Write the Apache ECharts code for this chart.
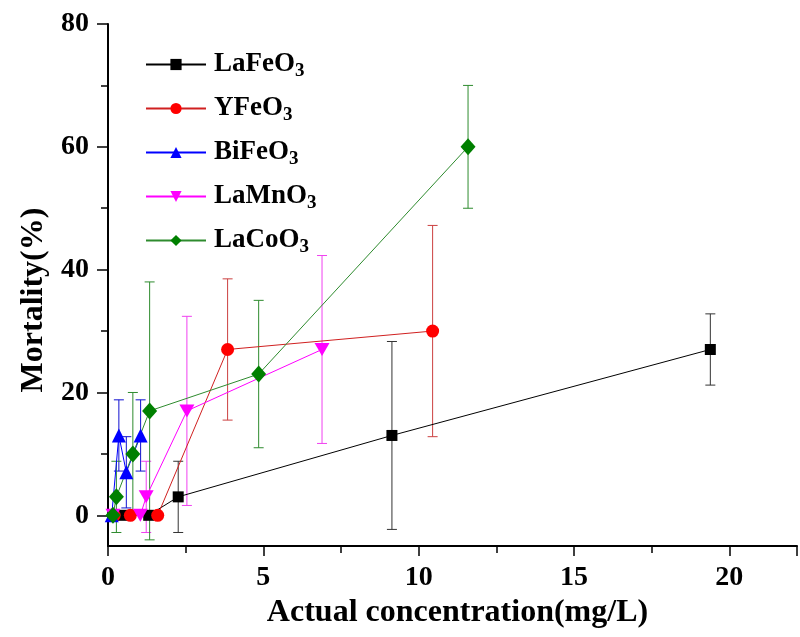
<!DOCTYPE html>
<html>
<head>
<meta charset="utf-8">
<script src="https://cdn.jsdelivr.net/npm/echarts@6/dist/echarts.min.js"></script>
<style>
  html, body { margin: 0; padding: 0; background: #fff; }
  #chart { width: 800px; height: 637px; }
</style>
</head>
<body>
<div id="chart"></div>
<script>
// values: x = concentration (mg/L), y = mortality (%), err = error bar half length
const laFeX = [0.15, 0.45, 1.31, 2.26, 9.14, 19.39];
const laFeY = [0, 0, 0, 3, 13, 27];
const laFeErr = [0, 0, 0, 5.8, 15.3, 5.8];

const yFeX = [0.2, 0.72, 1.6, 3.85, 10.45];
const yFeY = [0, 0, 0, 27, 30];
const yFeErr = [0, 0, 0, 11.5, 17.2];

const biFeX = [0.12, 0.35, 0.59, 1.05];
const biFeY = [0, 13, 7, 13];
const biFeErr = [0, 5.8, 5.8, 5.8];

const laMnX = [0.16, 1.04, 1.23, 2.54, 6.89];
const laMnY = [0, 0, 3, 17, 27];
const laMnErr = [0, 0, 5.8, 15.4, 15.3];

const laCoX = [0.16, 0.27, 0.8, 1.34, 4.85, 11.59];
const laCoY = [0, 3, 10, 17, 23, 60];
const laCoErr = [0, 5.8, 10, 21, 12, 10];

const yMajorTicks = [0, 20, 40, 60, 80];
const yMinorTicks = [10, 30, 50, 70];

const seriesDefs = [
  { name: "LaFeO3", label: "LaFeO", x: laFeX, y: laFeY, err: laFeErr, color: "#000000", bar: "#333333", symbol: "rect", size: 11 },
  { name: "YFeO3", label: "YFeO", x: yFeX, y: yFeY, err: yFeErr, color: "#ff0000", line: "#d02020", bar: "#cc4040", symbol: "circle", size: 13 },
  { name: "BiFeO3", label: "BiFeO", x: biFeX, y: biFeY, err: biFeErr, color: "#0000ff", bar: "#1010d0", symbol: "triangle", size: 14 },
  { name: "LaMnO3", label: "LaMnO", x: laMnX, y: laMnY, err: laMnErr, color: "#ff00ff", bar: "#f040f0", symbol: "path://M0,0 L10,0 L5,9 Z", size: [15, 13] },
  { name: "LaCoO3", label: "LaCoO", x: laCoX, y: laCoY, err: laCoErr, color: "#008000", line: "#2e8b2e", bar: "#2e8b2e", symbol: "diamond", size: [15, 17] },
];

const font = "'Liberation Serif', 'Times New Roman', serif";

function errorBars(def) {
  return {
    type: "custom",
    name: def.name + "_err",
    z: 1,
    silent: true,
    data: def.x.map((v, i) => [v, def.y[i], def.err[i]]),
    encode: { x: 0, y: 1 },
    renderItem: function (params, api) {
      const x = api.value(0), y = api.value(1), e = api.value(2);
      if (!e) return null;
      const top = api.coord([x, y + e]);
      const bot = api.coord([x, y - e]);
      const w = 5;
      const st = { stroke: def.bar, lineWidth: 1 };
      return {
        type: "group",
        children: [
          { type: "line", shape: { x1: top[0], y1: top[1], x2: bot[0], y2: bot[1] }, style: st },
          { type: "line", shape: { x1: top[0] - w, y1: top[1], x2: top[0] + w, y2: top[1] }, style: st },
          { type: "line", shape: { x1: bot[0] - w, y1: bot[1], x2: bot[0] + w, y2: bot[1] }, style: st },
        ],
      };
    },
  };
}

const series = [];
seriesDefs.forEach((d) => series.push(errorBars(d)));
seriesDefs.forEach((d) => {
  series.push({
    type: "line",
    name: d.name,
    z: 3,
    data: d.x.map((v, i) => [v, d.y[i]]),
    symbol: d.symbol,
    symbolSize: d.size,
    itemStyle: { color: d.color },
    lineStyle: { color: d.line || d.color, width: 1 },
    showAllSymbol: true,
  });
});

const labelMap = {};
seriesDefs.forEach((d) => (labelMap[d.name] = d.label));

const chart = echarts.init(document.getElementById("chart"));
chart.setOption({
  backgroundColor: "#ffffff",
  animation: false,
  textStyle: { fontFamily: font },
  grid: { left: 108, top: 24, right: 0, bottom: 91 },
  legend: {
    data: seriesDefs.map((d) => d.name),
    orient: "vertical",
    left: 140,
    top: 46,
    itemWidth: 60,
    itemHeight: 14,
    itemGap: 14,
    formatter: (name) => "{a|" + labelMap[name] + "}{s|3}",
    textStyle: {
      padding: [0, 0, 0, 3],
      rich: {
        a: { fontFamily: font, fontWeight: "bold", fontSize: 27, color: "#000" },
        s: { fontFamily: font, fontWeight: "bold", fontSize: 19, color: "#000", padding: [14, 0, 0, 0] },
      },
    },
  },
  xAxis: {
    type: "value",
    min: 0,
    max: 22.18,
    interval: 5,
    name: "Actual concentration(mg/L)",
    nameLocation: "middle",
    nameGap: 40,
    nameTextStyle: { fontFamily: font, fontWeight: "bold", fontSize: 32, color: "#000", padding: [0, 0, 0, 10] },
    axisLine: { onZero: false, lineStyle: { color: "#000", width: 2 } },
    axisTick: { length: 10, lineStyle: { color: "#000", width: 1.5 } },
    minorTick: { show: true, splitNumber: 2, length: 7, lineStyle: { color: "#000", width: 1.5 } },
    splitLine: { show: false },
    axisLabel: {
      margin: 18,
      fontFamily: font,
      fontWeight: "bold",
      fontSize: 28,
      color: "#000",
      formatter: (v) => (v > 20.5 ? "" : String(v)),
    },
  },
  yAxis: [
    {
      type: "value",
      min: -5,
      max: 80,
      name: "Mortality(%)",
      nameLocation: "middle",
      nameGap: 56,
      nameTextStyle: { fontFamily: font, fontWeight: "bold", fontSize: 32, color: "#000", padding: [0, 30, 0, 0] },
      axisLine: { onZero: false, lineStyle: { color: "#000", width: 2 } },
      axisTick: { length: 11, customValues: yMajorTicks, lineStyle: { color: "#000", width: 1.5 } },
      splitLine: { show: false },
      axisLabel: {
        margin: 19,
        customValues: yMajorTicks,
        fontFamily: font,
        fontWeight: "bold",
        fontSize: 28,
        color: "#000",
      },
    },
    {
      type: "value",
      position: "left",
      min: -5,
      max: 80,
      axisLine: { show: false },
      axisTick: { length: 7, customValues: yMinorTicks, lineStyle: { color: "#000", width: 1.5 } },
      axisLabel: { show: false },
      splitLine: { show: false },
    },
  ],
  series: series,
});
</script>
</body>
</html>
